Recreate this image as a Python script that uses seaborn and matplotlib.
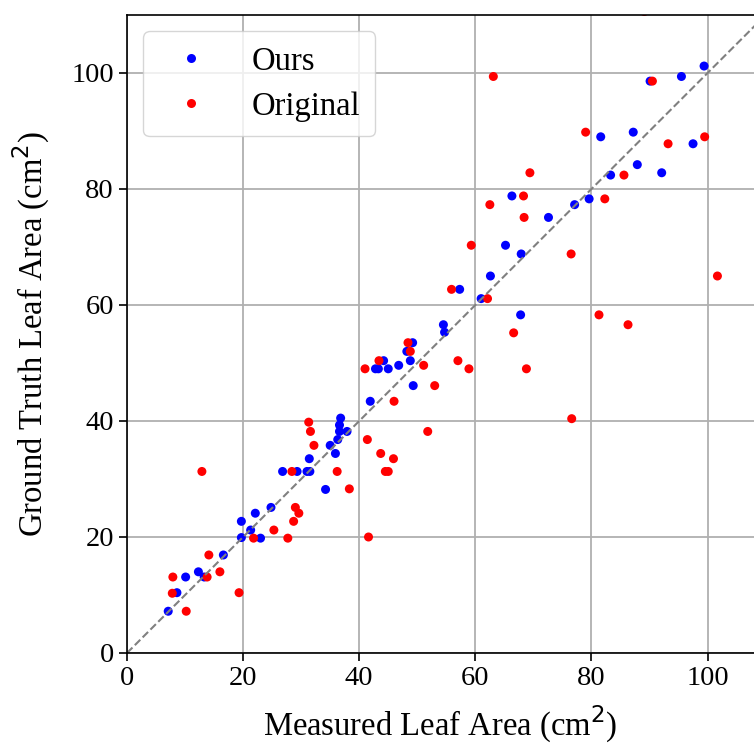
import numpy as np
import pandas as pd
import seaborn as sns
import matplotlib.pyplot as plt

# measured vs ground truth leaf area (cm^2)
ours_measured = [7.1, 8.6, 10.1, 12.3, 13.3, 16.6, 19.7, 23.0, 21.3, 19.7,
                 22.1, 24.8, 26.8, 29.3, 31.0, 31.5, 31.4, 34.2, 35.0, 35.9,
                 36.3, 36.6, 37.9, 36.8, 36.6, 41.9, 42.8, 43.3, 45.0, 44.2,
                 46.8, 48.8, 48.2, 49.2, 49.3, 54.5, 54.7, 57.3, 61.0, 67.8,
                 62.6, 65.2, 67.9, 66.3, 72.6, 77.1, 79.6, 83.3, 87.9, 92.1,
                 81.6, 87.2, 97.5, 90.1, 95.5, 99.4]
ours_truth = [7.2, 10.4, 13.1, 14.0, 13.1, 16.9, 19.9, 19.8, 21.2, 22.7,
              24.1, 25.1, 31.3, 31.3, 31.3, 31.3, 33.5, 28.2, 35.8, 34.4,
              36.8, 38.2, 38.2, 40.5, 39.3, 43.4, 49.0, 49.0, 49.0, 50.4,
              49.6, 50.4, 52.0, 53.5, 46.1, 56.6, 55.3, 62.7, 61.1, 58.3,
              65.0, 70.3, 68.8, 78.8, 75.1, 77.3, 78.3, 82.4, 84.2, 82.8,
              89.0, 89.8, 87.8, 98.6, 99.4, 101.2]

orig_measured = [10.2, 7.8, 7.9, 13.8, 16.0, 14.1, 19.3, 21.8, 25.3, 27.7,
                 28.7, 29.0, 29.6, 12.9, 28.4, 31.3, 31.6, 32.2, 36.2, 38.3,
                 41.6, 41.4, 43.7, 45.9, 44.5, 45.0, 51.8, 46.0, 53.0, 41.0,
                 43.4, 51.1, 48.4, 48.8, 57.0, 58.9, 55.9, 62.1, 66.6, 68.8,
                 76.6, 81.3, 86.3, 101.7, 76.5, 59.3, 62.5, 68.3, 68.4, 69.4,
                 82.3, 85.6, 79.0, 93.2, 99.5, 63.1, 90.5, 89.1]
orig_truth = [7.2, 10.3, 13.1, 13.1, 14.0, 16.9, 10.4, 19.8, 21.2, 19.8,
              22.7, 25.1, 24.1, 31.3, 31.3, 39.8, 38.2, 35.8, 31.3, 28.3,
              20.0, 36.8, 34.4, 33.5, 31.3, 31.3, 38.2, 43.4, 46.1, 49.0,
              50.4, 49.6, 53.5, 52.0, 50.4, 49.0, 62.7, 61.1, 55.2, 49.0,
              40.4, 58.3, 56.6, 65.0, 68.8, 70.3, 77.3, 78.8, 75.1, 82.8,
              78.3, 82.4, 89.8, 87.8, 89.0, 99.4, 98.6, 110.6]

df = pd.concat([
    pd.DataFrame({'measured': ours_measured, 'truth': ours_truth, 'method': 'Ours'}),
    pd.DataFrame({'measured': orig_measured, 'truth': orig_truth, 'method': 'Original'}),
], ignore_index=True)

plt.rcParams['font.family'] = ['Liberation Serif', 'DejaVu Serif']

fig = plt.figure(figsize=(7.54, 7.44), dpi=100)
ax = fig.add_axes([127 / 754, 91 / 744, 627 / 754, 638 / 744])
ax.set_axisbelow(True)
ax.grid(True, color='#b0b0b0', linewidth=1.3)

ax.plot([0, 110], [0, 110], '--', color='gray', linewidth=1.5)
sns.scatterplot(data=df, x='measured', y='truth', hue='method',
                palette={'Ours': 'blue', 'Original': 'red'},
                s=42, linewidth=0, ax=ax)

ax.set_xlim(0, 108)
ax.set_ylim(0, 110)
ax.set_xticks([0, 20, 40, 60, 80, 100])
ax.set_yticks([0, 20, 40, 60, 80, 100])
ax.tick_params(labelsize=20.5, length=6, width=1.2)
ax.spines['right'].set_visible(False)
for sp in ['left', 'bottom', 'top']:
    ax.spines[sp].set_linewidth(1.2)

ax.set_xlabel('Measured Leaf Area (cm$^2$)', fontsize=23.5, labelpad=9)
ax.set_ylabel('Ground Truth Leaf Area (cm$^2$)', fontsize=23.5, labelpad=14)

ax.legend(loc='upper left', fontsize=23.5, handletextpad=0.88,
          borderpad=0.45, labelspacing=0.45, framealpha=0.8)

fig.savefig('out.png', dpi=100)
